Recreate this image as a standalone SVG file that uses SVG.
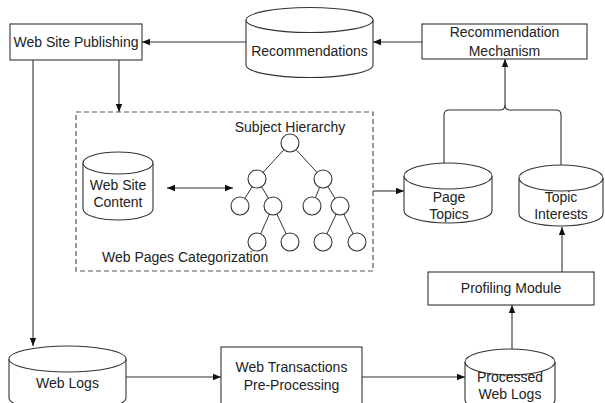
<svg xmlns="http://www.w3.org/2000/svg" width="605" height="403" viewBox="0 0 605 403">
  <defs>
    <marker id="arrow" viewBox="0 0 10 10" refX="10" refY="5" markerWidth="8" markerHeight="8" markerUnits="userSpaceOnUse" orient="auto-start-reverse">
      <path d="M0,1 L10,5 L0,9 Z" fill="#111"/>
    </marker>
    <style>
      text { font-family: "Liberation Sans", Arial, sans-serif; font-size: 14px; fill: #222; text-anchor: middle; }
      .box { fill: #fff; stroke: #333; stroke-width: 1.1; }
      .db { fill: #fff; stroke: #333; stroke-width: 1.1; }
      .link { fill: none; stroke: #333; stroke-width: 1.1; }
      .group { fill: none; stroke: #555; stroke-width: 1.2; stroke-dasharray: 5 3; }
      .tree line { stroke: #333; stroke-width: 1; }
      .tree circle { fill: #fff; stroke: #333; stroke-width: 1.1; }
    </style>
  </defs>

  <rect width="605" height="403" fill="#fff"/>

  <!-- categorization frame -->
  <g id="web-pages-categorization">
    <rect class="group" x="76" y="112" width="297" height="159"/>
    <text x="102" y="262" style="text-anchor:start">Web Pages Categorization</text>
  </g>

  <!-- connectors -->
  <g id="connectors">
    <line class="link" x1="246" y1="42" x2="142" y2="42" marker-end="url(#arrow)"/>
    <line class="link" x1="422" y1="42" x2="373" y2="42" marker-end="url(#arrow)"/>
    <line class="link" x1="119" y1="60" x2="119" y2="112" marker-end="url(#arrow)"/>
    <line class="link" x1="33" y1="60" x2="33" y2="346" marker-end="url(#arrow)"/>
    <line class="link" x1="167" y1="188" x2="233" y2="188" marker-start="url(#arrow)" marker-end="url(#arrow)"/>
    <line class="link" x1="373" y1="191" x2="404" y2="191" marker-end="url(#arrow)"/>
    <path class="link" d="M444,163 V115 Q444,110 449,110 H500 Q505,110 505,105"/>
    <path class="link" d="M561,165 V115 Q561,110 556,110 H510 Q505,110 505,105"/>
    <line class="link" x1="505" y1="105" x2="505" y2="59" marker-end="url(#arrow)"/>
    <line class="link" x1="562" y1="272" x2="562" y2="227" marker-end="url(#arrow)"/>
    <line class="link" x1="512" y1="349" x2="512" y2="305" marker-end="url(#arrow)"/>
    <line class="link" x1="126" y1="377" x2="221" y2="377" marker-end="url(#arrow)"/>
    <line class="link" x1="362" y1="377" x2="465" y2="377" marker-end="url(#arrow)"/>
  </g>

  <g id="web-site-publishing">
    <rect class="box" x="10" y="24" width="132" height="36"/>
    <text x="76" y="47">Web Site Publishing</text>
  </g>

  <g id="recommendations">
    <path class="db" d="M246,20 V65 A63.5,12.5 0 0 0 373,65 V20"/>
    <ellipse class="db" cx="309.5" cy="20" rx="63.5" ry="12.5"/>
    <text x="309.5" y="56">Recommendations</text>
  </g>

  <g id="recommendation-mechanism">
    <rect class="box" x="422" y="24" width="165" height="35"/>
    <text x="504.5" y="37">Recommendation</text>
    <text x="504.5" y="56">Mechanism</text>
  </g>

  <g id="web-site-content">
    <path class="db" d="M83,163 V209 A35,11 0 0 0 153,209 V163"/>
    <ellipse class="db" cx="118" cy="163" rx="35" ry="11"/>
    <text x="118" y="190">Web Site</text>
    <text x="118" y="207">Content</text>
  </g>

  <g id="subject-hierarchy" class="tree">
    <text x="290" y="132">Subject Hierarchy</text>
    <line x1="290" y1="143" x2="257" y2="179"/>
    <line x1="290" y1="143" x2="323" y2="179"/>
    <line x1="257" y1="179" x2="240" y2="206"/>
    <line x1="257" y1="179" x2="273" y2="206"/>
    <line x1="323" y1="179" x2="312" y2="206"/>
    <line x1="323" y1="179" x2="340" y2="206"/>
    <line x1="273" y1="206" x2="257" y2="242"/>
    <line x1="273" y1="206" x2="290" y2="242"/>
    <line x1="340" y1="206" x2="323" y2="242"/>
    <line x1="340" y1="206" x2="357" y2="242"/>
    <circle cx="290" cy="143" r="9"/>
    <circle cx="257" cy="179" r="9"/>
    <circle cx="323" cy="179" r="9"/>
    <circle cx="240" cy="206" r="9"/>
    <circle cx="273" cy="206" r="9"/>
    <circle cx="312" cy="206" r="9"/>
    <circle cx="340" cy="206" r="9"/>
    <circle cx="257" cy="242" r="9"/>
    <circle cx="290" cy="242" r="9"/>
    <circle cx="323" cy="242" r="9"/>
    <circle cx="357" cy="242" r="9"/>
  </g>

  <g id="page-topics">
    <path class="db" d="M404,176 V211 A44,12 0 0 0 492,211 V176"/>
    <ellipse class="db" cx="448" cy="176" rx="44" ry="13"/>
    <text x="449" y="202">Page</text>
    <text x="449" y="219">Topics</text>
  </g>

  <g id="topic-interests">
    <path class="db" d="M519,178 V214 A42,12 0 0 0 603,214 V178"/>
    <ellipse class="db" cx="561" cy="178" rx="42" ry="13"/>
    <text x="561" y="202">Topic</text>
    <text x="561" y="219">Interests</text>
  </g>

  <g id="profiling-module">
    <rect class="box" x="428" y="272" width="166" height="33"/>
    <text x="511" y="293">Profiling Module</text>
  </g>

  <g id="web-logs">
    <path class="db" d="M9,359 V398 A58.5,13 0 0 0 126,398 V359"/>
    <ellipse class="db" cx="67.5" cy="359" rx="58.5" ry="13"/>
    <text x="67.5" y="388">Web Logs</text>
  </g>

  <g id="web-transactions-pre-processing">
    <rect class="box" x="221" y="347" width="141" height="70"/>
    <text x="291.5" y="372">Web Transactions</text>
    <text x="291.5" y="390">Pre-Processing</text>
  </g>

  <g id="processed-web-logs">
    <path class="db" d="M465,362 V400 A45,12 0 0 0 555,400 V362"/>
    <ellipse class="db" cx="510" cy="362" rx="45" ry="13"/>
    <text x="510" y="382">Processed</text>
    <text x="510" y="399">Web Logs</text>
  </g>
</svg>
